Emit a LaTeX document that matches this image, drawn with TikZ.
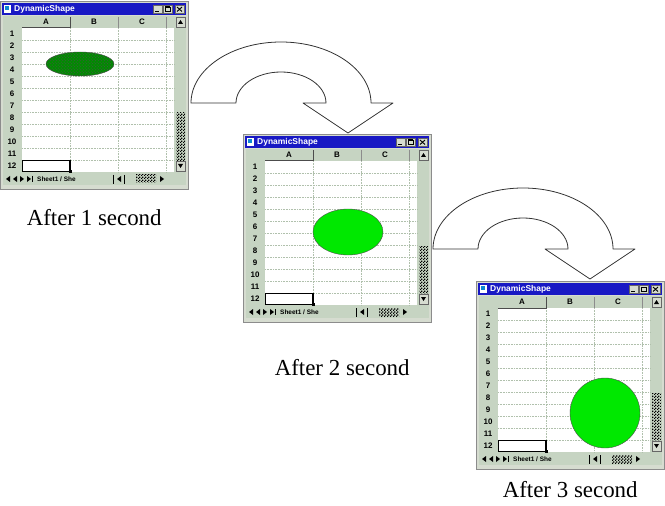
\documentclass[tikz,border=0pt]{standalone}
\usepackage{fontspec}
\setmainfont{Liberation Serif}
\setsansfont{Liberation Sans}
\usetikzlibrary{positioning,shapes.geometric,patterns}

\pgfdeclarepatternformonly{finecheck}{\pgfqpoint{0bp}{0bp}}{\pgfqpoint{3bp}{3bp}}{\pgfqpoint{3bp}{3bp}}{%
  \pgfpathrectangle{\pgfqpoint{0bp}{0bp}}{\pgfqpoint{1.5bp}{1.5bp}}%
  \pgfpathrectangle{\pgfqpoint{1.5bp}{1.5bp}}{\pgfqpoint{1.5bp}{1.5bp}}%
  \pgfusepath{fill}}

\definecolor{titleblue}{RGB}{24,24,196}
\definecolor{framegrey}{RGB}{214,220,208}
\definecolor{hdrgrey}{RGB}{198,212,194}
\definecolor{gridgrey}{RGB}{176,192,172}
\definecolor{blobdark}{RGB}{0,140,0}
\definecolor{blobgreen}{RGB}{0,232,0}

\begin{document}
\begin{tikzpicture}[x=1bp,y=-1bp,
  winframe/.style={rectangle, draw=black!45, fill=framegrey, minimum width=188bp, minimum height=188bp, inner sep=0pt},
  titletext/.style={text=white, font=\sffamily\bfseries\fontsize{8.5}{9}\selectfont, inner sep=0pt},
  hdrtext/.style={font=\sffamily\bfseries\fontsize{8}{9}\selectfont, inner sep=0pt},
  tabtext/.style={font=\sffamily\bfseries\fontsize{6.5}{7}\selectfont, inner sep=0pt},
  gridline/.style={gridgrey, densely dotted, line width=0.6bp},
  btn/.style={draw=black!60, fill=framegrey, line width=0.4bp},
  dither/.style={pattern=finecheck, pattern color=black},
  blockarrow/.style={draw=black!80, fill=white, line width=0.8bp, line join=round},
  caption/.style={font=\fontsize{23}{26}\selectfont, inner sep=0pt},
  blobone/.style={ellipse, draw=black!70, fill=blobdark, minimum width=68bp, minimum height=24bp, postaction={pattern=crosshatch dots, pattern color=black!70}},
  blobtwo/.style={ellipse, draw=black!70, fill=blobgreen, minimum width=70bp, minimum height=46bp},
  blobthree/.style={circle, draw=black!70, fill=blobgreen, minimum size=70bp},
  turnarrow/.pic={
    \draw[blockarrow] (-90,0) arc[start angle=180, end angle=360, x radius=90, y radius=61]
      -- (112,0) -- (67,30) -- (22,0) -- (45,0)
      arc[start angle=360, end angle=180, x radius=45, y radius=31] -- cycle;
  },
  xlwin/.pic={
    \node[winframe, anchor=north west] (-frame) at (0,0) {};
    % title bar
    \fill[titleblue] (2,2) rectangle (186,14);
    \fill[white] (4,4) rectangle (11,12);
    \fill[cyan!70!blue] (5,5) rectangle (9,9);
    \node[titletext, anchor=west] (-title) at (14,8) {DynamicShape};
    \draw[btn] (153,4) rectangle (162,12); \draw[line width=1.2bp] (155,10.5) -- (159,10.5);
    \draw[btn] (163,4) rectangle (172,12); \draw[line width=0.5bp] (165,6) rectangle (170,10.5); \draw[line width=1bp] (165,6) -- (170,6);
    \draw[btn] (175,4) rectangle (184,12); \draw[line width=0.9bp] (177,6) -- (182,10.5) (182,6) -- (177,10.5);
    % headers and cells
    \fill[hdrgrey] (3,15) rectangle (186,184);
    \fill[white] (22,27) rectangle (174,171);
    \foreach \gy in {39,51,...,159} \draw[gridline] (22,\gy) -- (174,\gy);
    \foreach \gx in {70,118,166} \draw[gridline] (\gx,27) -- (\gx,171);
    \foreach \gx in {70,118,166} \draw[black!45] (\gx,16) -- (\gx,27);
    \draw[black!70, line width=1bp] (22,27) -- (70,27) -- (70,16);
    \foreach \c [count=\i] in {A,B,C} \node[hdrtext] (-col\c) at ({48*\i-2},21) {\c};
    \foreach \r in {1,...,12} \node[hdrtext] (-row\r) at (12,{21+12*\r}) {\r};
    \draw[line width=1.5bp] (22.5,159.5) rectangle (70,170.5);
    \fill (68.5,169) rectangle (71.5,172);
    % scroll bars
    \fill[dither] (176,112) rectangle (185,160);
    \draw[btn] (176,16) rectangle (185,26); \fill (178,23) -- (183,23) -- (180.5,19) -- cycle;
    \draw[btn] (176,160) rectangle (185,170); \fill (178,163) -- (183,163) -- (180.5,167) -- cycle;
    % sheet tabs
    \foreach \tx in {6,13} \fill (\tx,178) -- ++(4,-3) -- ++(0,6) -- cycle;
    \foreach \tx in {24,31} \fill (\tx,178) -- ++(-4,-3) -- ++(0,6) -- cycle;
    \draw (32,175) -- (32,181);
    \node[tabtext, anchor=west] (-tabs) at (37,178) {Sheet1 / She};
    \draw (113,174) -- (113,183);
    \fill (117,178) -- ++(4,-3) -- ++(0,6) -- cycle;
    \draw (124,174) -- (124,183);
    \fill[dither] (136,174) rectangle (156,182);
    \fill (164,178) -- ++(-4,-3) -- ++(0,6) -- cycle;
  }]
  \useasboundingbox (0,0) rectangle (665,506);

  \pic (wina) at (0,1) {xlwin};
  \pic (winb) at (243,134) {xlwin};
  \pic (winc) at (476,281) {xlwin};

  \node[blobone] (blob1) at (80,64) {};
  \node[blobtwo] (blob2) at (348,232) {};
  \node[blobthree] (blob3) at (605,413) {};

  \coordinate (turna) at (281,103);
  \coordinate (turnb) at (523,249);
  \pic at (turna) {turnarrow};
  \pic at (turnb) {turnarrow};

  \node[caption, below=20bp of wina-frame] (capa) {After 1 second};
  \node[caption, below=37bp of winb-frame, xshift=5bp] (capb) {After 2 second};
  \node[caption, below=12bp of winc-frame] (capc) {After 3 second};
\end{tikzpicture}
\end{document}
